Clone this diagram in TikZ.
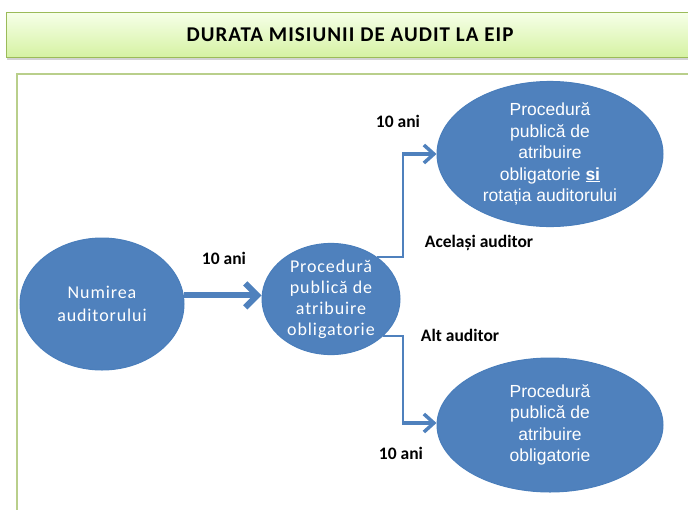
\documentclass[tikz,border=0pt]{standalone}
\usepackage{fontspec}
\setmainfont{Carlito}
\newfontfamily\widefont[LetterSpace=5]{Carlito}
\newfontfamily\arialfont{Liberation Sans}
\usetikzlibrary{arrows.meta,shadows,shapes.geometric}
\definecolor{eblue}{HTML}{4F81BD}
\definecolor{eedge}{HTML}{4A7EBB}
\definecolor{lgreen}{HTML}{9BBB59}
\definecolor{ltop}{HTML}{F6FFE8}
\definecolor{lbot}{HTML}{D5F2A2}
\begin{document}
\begin{tikzpicture}[x=1pt, y=-1pt,
  every node/.style = {inner sep = 0pt},
  bubble/.style = {ellipse, fill = eblue, draw = eedge, line width = 1pt,
    text = white, align = center, font = \widefont\fontsize{18}{21}\selectfont},
  bigarrow/.style = {draw = eblue, line width = 6pt,
    -{Straight Barb[length = 12pt, width = 24pt]}},
  midarrow/.style = {draw = eblue, line width = 3.5pt,
    -{Straight Barb[length = 10pt, width = 18pt]}},
  branch/.style = {draw = eblue, line width = 1.6pt},
  lbl/.style = {font = \bfseries\fontsize{17.5}{20}\selectfont}]
  \useasboundingbox (0,0) rectangle (688,509);
  \clip (0,0) rectangle (688,509);
  % title bar and frame
  \node[draw = lgreen, line width = 1.2pt, top color = ltop, bottom color = lbot,
    minimum width = 700pt, minimum height = 45pt, anchor = north west,
    drop shadow = {shadow xshift = 0pt, shadow yshift = -2.5pt, opacity = .35}]
    (bar) at (6,12) {};
  \node[font = \bfseries\widefont\fontsize{21}{23}\selectfont] (title) at (350,35)
    {DURATA MISIUNII DE AUDIT LA EIP};
  \draw[draw = lgreen!70, line width = 2pt] (17,520) -- (17,74) -- (700,74);
  % ellipses
  \node[bubble, minimum width = 164pt, minimum height = 132pt,
    font = \widefont\fontsize{18}{23}\selectfont] (numire) at (102,304)
    {Numirea\\auditorului};
  \node[bubble, minimum width = 138pt, minimum height = 110pt] (proc) at (331,299)
    {Procedură\\publică de\\atribuire\\obligatorie};
  \node[bubble, minimum width = 226pt, minimum height = 138pt,
    font = \arialfont\fontsize{17.5}{21.5}\selectfont] (rot) at (550,154)
    {Procedură\\publică de\\atribuire\\obligatorie \underline{\textbf{si}}\\rotația auditorului};
  \node[bubble, minimum width = 226pt, minimum height = 134pt,
    font = \arialfont\fontsize{17.5}{21.5}\selectfont] (alt) at (550,425)
    {Procedură\\publică de\\atribuire\\obligatorie};
  % connectors
  \coordinate (jtop) at (403,154);
  \coordinate (jbot) at (403,423);
  \draw[bigarrow] (numire.6) -- (numire.6 -| proc.west);
  \draw[branch] (proc.42) -| (jtop);
  \draw[branch] (proc.-35) -| (jbot);
  \draw[midarrow] ([xshift = -0.8pt]jtop) -- (jtop -| rot.west);
  \draw[midarrow] ([xshift = -0.8pt]jbot) -- (jbot -| alt.west);
  % labels
  \node[lbl] (t1) at (224,258) {10 ani};
  \node[lbl] (t2) at (398,121) {10 ani};
  \node[lbl] (t3) at (401,453) {10 ani};
  \node[lbl] (same) at (479,243) {Același auditor};
  \node[lbl] (other) at (460,335) {Alt auditor};
\end{tikzpicture}
\end{document}
